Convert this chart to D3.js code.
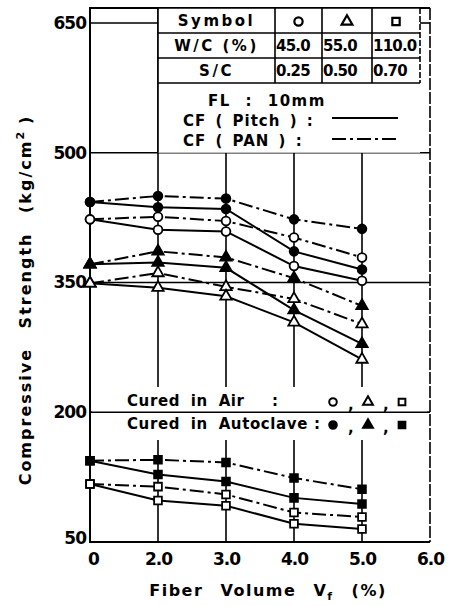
<!DOCTYPE html>
<html>
<head>
<meta charset="utf-8">
<script src="https://cdn.jsdelivr.net/npm/d3@7"></script>
<style>
  body { margin: 0; background: #fff; }
  svg { font-family: "DejaVu Sans", sans-serif; font-weight: bold; }
</style>
</head>
<body>
<svg id="chart" width="458" height="606"></svg>
<script>
// x categories (fiber volume, %), not evenly valued but evenly spaced
var vfTicks = ["0", "2.0", "3.0", "4.0", "5.0", "6.0"];
var vf = ["0", "2.0", "3.0", "4.0", "5.0"];
var yTicks = [50, 200, 350, 500, 650];

// W/C 45 (circle)
var circleAutoPan   = [443, 450, 447, 423, 412];
var circleAutoPitch = [443, 437, 435, 386, 365];
var circleAirPan    = [423, 426, 421, 402, 379];
var circleAirPitch  = [423, 411, 409, 369, 352];
// W/C 55 (triangle)
var triAutoPan   = [371, 386, 379, 355, 323];
var triAutoPitch = [371, 373, 367, 318, 279];
var triAirPan    = [349, 361, 345, 331, 302];
var triAirPitch  = [349, 344, 334, 304, 261];
// W/C 110 (square)
var sqAutoPan   = [144, 145, 142, 124, 111];
var sqAutoPitch = [144, 128, 120, 101, 94];
var sqAirPan    = [117, 114, 105, 84, 79];
var sqAirPitch  = [117, 98, 92, 71, 65];

var series = [
  {v: circleAutoPan, shape: "circle", filled: true, pan: true},
  {v: circleAutoPitch, shape: "circle", filled: true, pan: false},
  {v: circleAirPan, shape: "circle", filled: false, pan: true},
  {v: circleAirPitch, shape: "circle", filled: false, pan: false},
  {v: triAutoPan, shape: "triangle", filled: true, pan: true},
  {v: triAutoPitch, shape: "triangle", filled: true, pan: false},
  {v: triAirPan, shape: "triangle", filled: false, pan: true},
  {v: triAirPitch, shape: "triangle", filled: false, pan: false},
  {v: sqAutoPan, shape: "square", filled: true, pan: true},
  {v: sqAutoPitch, shape: "square", filled: true, pan: false},
  {v: sqAirPan, shape: "square", filled: false, pan: true},
  {v: sqAirPitch, shape: "square", filled: false, pan: false}
];

var svg = d3.select("#chart");
var x = d3.scalePoint().domain(vfTicks).range([90, 430]);
var y = d3.scaleLinear().domain([50, 650]).range([542, 23]);
var yTop = 8, left = x("0"), right = x("6.0"), bottom = y(50);
var dashDot = "14,4,3,4";

var symbolType = {circle: d3.symbolCircle, triangle: d3.symbolTriangle, square: d3.symbolSquare};
var symbolSize = {circle: 60, triangle: 56, square: 60};

// grid
var grid = svg.append("g").attr("stroke", "#000").attr("stroke-width", 1.6);
vfTicks.slice(1, 5).forEach(function(t) {
  grid.append("line").attr("x1", x(t)).attr("x2", x(t))
    .attr("y1", t == "2.0" ? yTop : y(500)).attr("y2", bottom);
});
[200, 350, 500].forEach(function(v) {
  grid.append("line").attr("x1", left).attr("x2", right).attr("y1", y(v)).attr("y2", y(v));
});
grid.append("line").attr("x1", left).attr("x2", x("2.0")).attr("y1", y(650)).attr("y2", y(650));
grid.append("line").attr("x1", 420).attr("x2", right).attr("y1", y(650)).attr("y2", y(650));

// frame
svg.append("path")
  .attr("d", "M" + right + "," + yTop + "H" + left + "V" + bottom + "H" + right)
  .attr("fill", "none").attr("stroke", "#000").attr("stroke-width", 2);
svg.append("line").attr("x1", right).attr("x2", right).attr("y1", yTop).attr("y2", bottom)
  .attr("stroke", "#000").attr("stroke-width", 1.6).attr("stroke-dasharray", "12,2");

// blank band for the curing labels
svg.append("rect").attr("x", left + 2).attr("y", 387).attr("width", right - left - 5).attr("height", 53).attr("fill", "#fff");
svg.append("line").attr("x1", left).attr("x2", right).attr("y1", y(200)).attr("y2", y(200))
  .attr("stroke", "#000").attr("stroke-width", 1.6);

// axes
svg.append("g").attr("transform", "translate(" + left + ",0)")
  .call(d3.axisLeft(y).tickValues(yTicks).tickSize(0).tickPadding(4))
  .call(function(g) { g.select(".domain").remove(); })
  .selectAll("text").attr("font-size", 17).attr("font-family", "DejaVu Sans").attr("font-weight", "bold")
  .attr("letter-spacing", -1)
  .attr("dy", function(d) { return d == 50 ? "0.1em" : "0.32em"; });
svg.append("g").attr("transform", "translate(0," + bottom + ")")
  .call(d3.axisBottom(x).tickSize(0).tickPadding(11))
  .call(function(g) { g.select(".domain").remove(); })
  .selectAll("text").attr("font-size", 17).attr("font-family", "DejaVu Sans").attr("font-weight", "bold")
  .attr("letter-spacing", -1)
  .attr("dx", function(d) { return d == "0" ? 3 : 0; });

// axis titles
svg.append("text").attr("x", 268).attr("y", 596).attr("text-anchor", "middle")
  .attr("font-size", 16).attr("letter-spacing", 1.5).attr("word-spacing", 10)
  .text("Fiber Volume V")
  .append("tspan").attr("font-size", 11).attr("dy", 4).text("f")
  .select(function() { return this.parentNode; })
  .append("tspan").attr("dy", -4).attr("dx", 18).text("(%)");

var yl = svg.append("text").attr("transform", "translate(31,300) rotate(-90)")
  .attr("text-anchor", "middle").attr("font-size", 16).attr("letter-spacing", 2).attr("word-spacing", 12);
yl.append("tspan").text("Compressive Strength (kg/cm");
yl.append("tspan").attr("font-size", 11).attr("dy", -7).text("2");
yl.append("tspan").attr("dy", 7).attr("dx", 6).text(")");

// legend box
var lg = svg.append("g");
lg.append("rect").attr("x", x("2.0")).attr("y", yTop).attr("width", 262).attr("height", y(500) - yTop)
  .attr("fill", "#fff");
var tbl = lg.append("g").attr("stroke", "#000").attr("stroke-width", 1.6).attr("fill", "none");
var rowsY = [yTop, 33, 58, 83];
var colsX = [x("2.0"), 275, 322, 372, 420];
rowsY.forEach(function(ry) {
  tbl.append("line").attr("x1", colsX[0]).attr("x2", ry == yTop ? right : 420).attr("y1", ry).attr("y2", ry);
});
colsX.forEach(function(cx, i) {
  tbl.append("line").attr("x1", cx).attr("x2", cx).attr("y1", yTop).attr("y2", i == 0 ? y(500) : 83)
    .attr("stroke-dasharray", i == 4 ? "6,2" : null);
});
var rowLabels = ["Symbol", "W/C (%)", "S/C"];
var wc = ["45.0", "55.0", "110.0"];
var sc = ["0.25", "0.50", "0.70"];
var shapes = ["circle", "triangle", "square"];
rowLabels.forEach(function(t, i) {
  lg.append("text").attr("x", (colsX[0] + colsX[1]) / 2).attr("y", (rowsY[i] + rowsY[i + 1]) / 2)
    .attr("dy", "0.36em").attr("text-anchor", "middle").attr("font-size", 15).attr("letter-spacing", 2.5)
    .text(t);
});
lg.append("clipPath").attr("id", "cellclip").append("rect").attr("x", 275).attr("y", yTop).attr("width", 145).attr("height", 80);
shapes.forEach(function(s, i) {
  var cx = (colsX[i + 1] + colsX[i + 2]) / 2;
  lg.append("path").attr("d", d3.symbol().type(symbolType[s]).size(symbolSize[s] * 0.9)())
    .attr("transform", "translate(" + cx + "," + ((rowsY[0] + rowsY[1]) / 2 + 1) + ")")
    .attr("fill", "none").attr("stroke", "#000").attr("stroke-width", 2.2);
  [wc, sc].forEach(function(arr, r) {
    lg.append("text").attr("clip-path", "url(#cellclip)")
      .attr("x", colsX[i + 1] + 1).attr("y", (rowsY[r + 1] + rowsY[r + 2]) / 2).attr("dy", "0.36em")
      .attr("font-size", 15).attr("letter-spacing", -0.8).text(arr[i]);
  });
});
lg.append("text").attr("x", 208).attr("y", 106).attr("font-size", 15).attr("letter-spacing", 1.5)
  .attr("word-spacing", 8).text("FL : 10mm");
lg.append("text").attr("x", 183).attr("y", 126).attr("font-size", 15).attr("letter-spacing", 1)
  .attr("word-spacing", 3).text("CF ( Pitch ) :");
lg.append("text").attr("x", 183).attr("y", 146).attr("font-size", 15).attr("letter-spacing", 1)
  .attr("word-spacing", 3).text("CF ( PAN ) :");
lg.append("line").attr("x1", 332).attr("x2", 398).attr("y1", 118).attr("y2", 118)
  .attr("stroke", "#000").attr("stroke-width", 2);
lg.append("line").attr("x1", 332).attr("x2", 400).attr("y1", 139).attr("y2", 139)
  .attr("stroke", "#000").attr("stroke-width", 2).attr("stroke-dasharray", dashDot);

// curing labels
var cure = [{t: "Cured in Air", colon: 272, yy: 401, filled: false},
            {t: "Cured in Autoclave", colon: 314, yy: 424, filled: true}];
cure.forEach(function(c) {
  svg.append("text").attr("x", 127).attr("y", c.yy).attr("dy", "0.36em").attr("font-size", 15)
    .attr("letter-spacing", 0.6).attr("word-spacing", 5).text(c.t);
  svg.append("text").attr("x", c.colon).attr("y", c.yy).attr("dy", "0.36em").attr("font-size", 15).text(":");
  shapes.forEach(function(s, i) {
    var sx = [333, 368, 402][i];
    svg.append("path").attr("d", d3.symbol().type(symbolType[s]).size(symbolSize[s] * 0.75)())
      .attr("transform", "translate(" + sx + "," + (c.yy + 1) + ")")
      .attr("fill", c.filled ? "#000" : "none").attr("stroke", "#000").attr("stroke-width", 2);
    if (i < 2) svg.append("text").attr("x", sx + 15).attr("y", c.yy).attr("dy", "0.6em").attr("font-size", 15).text(",");
  });
});

// data lines
var line = d3.line().x(function(d, i) { return x(vf[i]); }).y(function(d) { return y(d); });
series.forEach(function(s) {
  svg.append("path").datum(s.v).attr("d", line).attr("fill", "none")
    .attr("stroke", "#000").attr("stroke-width", 2)
    .attr("stroke-dasharray", s.pan ? dashDot : null);
});
series.forEach(function(s) {
  svg.selectAll(null).data(s.v).enter().append("path")
    .attr("d", d3.symbol().type(symbolType[s.shape]).size(symbolSize[s.shape]))
    .attr("transform", function(d, i) { return "translate(" + x(vf[i]) + "," + y(d) + ")"; })
    .attr("fill", s.filled ? "#000" : "#fff").attr("stroke", "#000").attr("stroke-width", 1.8);
});
</script>
</body>
</html>
